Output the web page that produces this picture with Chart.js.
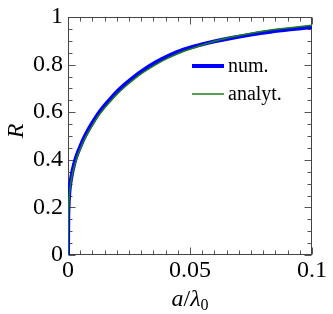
<!DOCTYPE html>
<html><head><meta charset="utf-8">
<script src="https://cdn.jsdelivr.net/npm/chart.js@4"></script>
<style>html,body{margin:0;padding:0;background:#fff}#wrap{width:333px;height:314px}</style>
</head><body><div id="wrap"><canvas id="c" width="333" height="314"></canvas></div>
<script>
const xValues = [0, 0.0001, 0.0003, 0.0006, 0.001, 0.0015, 0.002, 0.003, 0.004, 0.005, 0.0065, 0.008, 0.01, 0.0125, 0.015, 0.0175, 0.02, 0.0235, 0.027, 0.031, 0.036, 0.041, 0.047, 0.053, 0.06, 0.067, 0.075, 0.083, 0.091, 0.1];
const numValues = [0, 0.16, 0.225, 0.27, 0.305, 0.335, 0.36, 0.40, 0.43, 0.455, 0.49, 0.52, 0.555, 0.595, 0.628, 0.657, 0.685, 0.718, 0.748, 0.778, 0.81, 0.836, 0.862, 0.88, 0.8975, 0.912, 0.926, 0.938, 0.948, 0.958];
const analytValues = [0, 0.15, 0.213, 0.258, 0.293, 0.323, 0.348, 0.388, 0.419, 0.445, 0.48, 0.51, 0.545, 0.585, 0.618, 0.647, 0.675, 0.708, 0.738, 0.768, 0.80, 0.827, 0.854, 0.875, 0.898, 0.916, 0.932, 0.945, 0.955, 0.965];
const seriesLabels = ['num.', 'analyt.'];
const xTickValues = [0, 0.05, 0.1];
const xTickLabels = ['0', '0.05', '0.1'];
const yTickValues = [0, 0.2, 0.4, 0.6, 0.8, 1];
const yTickLabels = ['0', '0.2', '0.4', '0.6', '0.8', '1'];
const xMinorStep = 0.005, yMinorStep = 0.05;

const FONT = '"Liberation Serif", "Times New Roman", serif';

const framePlugin = {
  id: 'frame',
  beforeDatasetsDraw(chart) {
    const {ctx, chartArea: a, scales: {x, y}} = chart;
    ctx.save();
    ctx.strokeStyle = '#555';
    ctx.lineWidth = 1;
    const L = Math.round(a.left) + 0.5, R = Math.round(a.right) - 0.5;
    const T = Math.round(a.top) + 0.5, B = Math.round(a.bottom) - 0.5;
    ctx.beginPath();
    const nx = Math.round((x.max - x.min) / xMinorStep);
    for (let k = 0; k <= nx; k++) {
      const px = Math.round(x.getPixelForValue(x.min + k * xMinorStep)) + 0.5;
      const len = (k % 10 === 0) ? 7 : 4;
      ctx.moveTo(px, B); ctx.lineTo(px, B - len);
      ctx.moveTo(px, T); ctx.lineTo(px, T + len);
    }
    const ny = Math.round((y.max - y.min) / yMinorStep);
    for (let k = 0; k <= ny; k++) {
      const py = Math.round(y.getPixelForValue(y.min + k * yMinorStep)) + 0.5;
      const len = (k % 4 === 0) ? 7 : 4;
      ctx.moveTo(L, py); ctx.lineTo(L + len, py);
      ctx.moveTo(R, py); ctx.lineTo(R - len, py);
    }
    ctx.stroke();
    ctx.strokeStyle = '#444';
    ctx.strokeRect(L, T, R - L, B - T);
    ctx.restore();
  },
  afterDraw(chart) {
    const {ctx} = chart;
    ctx.save();
    const ds = chart.data.datasets;
    const rows = [66, 94];
    ds.forEach((d, i) => {
      ctx.strokeStyle = d.borderColor;
      ctx.lineWidth = d.borderWidth;
      ctx.beginPath();
      ctx.moveTo(192, rows[i]); ctx.lineTo(224, rows[i]);
      ctx.stroke();
      ctx.fillStyle = '#000';
      ctx.font = '20px ' + FONT;
      ctx.textBaseline = 'middle';
      ctx.textAlign = 'left';
      ctx.fillText(d.label, 228, rows[i] + 1);
    });
    ctx.save();
    ctx.translate(17, 131);
    ctx.rotate(-Math.PI / 2);
    ctx.font = 'italic 24px ' + FONT;
    ctx.textAlign = 'center';
    ctx.textBaseline = 'middle';
    ctx.fillText('R', 0, 0);
    ctx.restore();
    const parts = [
      {t: 'a', f: 'italic 24px ' + FONT, dy: 0},
      {t: '/', f: '24px ' + FONT, dy: 0},
      {t: 'λ', f: 'italic 24px ' + FONT, dy: 0},
      {t: '0', f: '16px ' + FONT, dy: 4}
    ];
    let w = 0;
    parts.forEach(p => { ctx.font = p.f; p.w = ctx.measureText(p.t).width; w += p.w; });
    let cx = 190 - w / 2;
    ctx.textBaseline = 'alphabetic';
    ctx.textAlign = 'left';
    parts.forEach(p => { ctx.font = p.f; ctx.fillText(p.t, cx, 306 + p.dy); cx += p.w; });
    ctx.restore();
  }
};

new Chart(document.getElementById('c'), {
  type: 'line',
  data: {
    datasets: [
      {label: seriesLabels[0], order: 2, data: xValues.map((v, i) => ({x: v, y: numValues[i]})), borderColor: '#0000ff', borderWidth: 4, pointRadius: 0, tension: 0.3, fill: false},
      {label: seriesLabels[1], order: 1, data: xValues.map((v, i) => ({x: v, y: analytValues[i]})), borderColor: '#1a7f1a', borderWidth: 1.5, pointRadius: 0, tension: 0.3, fill: false}
    ]
  },
  options: {
    responsive: false,
    animation: false,
    devicePixelRatio: 1,
    layout: {padding: {top: 12, right: 21, left: 0, bottom: 0}},
    plugins: {legend: {display: false}, tooltip: {enabled: false}},
    scales: {
      x: {
        type: 'linear', min: 0, max: 0.1,
        afterBuildTicks: s => { s.ticks = xTickValues.map(v => ({value: v})); },
        afterFit: s => { s.height = 59; },
        grid: {display: false, drawTicks: false},
        border: {display: false},
        ticks: {color: '#000', padding: 4, maxRotation: 0, font: {family: FONT, size: 24, lineHeight: 1},
          callback: (v, i) => xTickLabels[i]}
      },
      y: {
        type: 'linear', min: 0, max: 1,
        afterBuildTicks: s => { s.ticks = yTickValues.map(v => ({value: v})); },
        afterFit: s => { s.width = 68; },
        grid: {display: false, drawTicks: false},
        border: {display: false},
        ticks: {color: '#000', padding: 5, font: {family: FONT, size: 24, lineHeight: 1},
          callback: (v, i) => yTickLabels[i]}
      }
    }
  },
  plugins: [framePlugin]
});
</script>
</body></html>
